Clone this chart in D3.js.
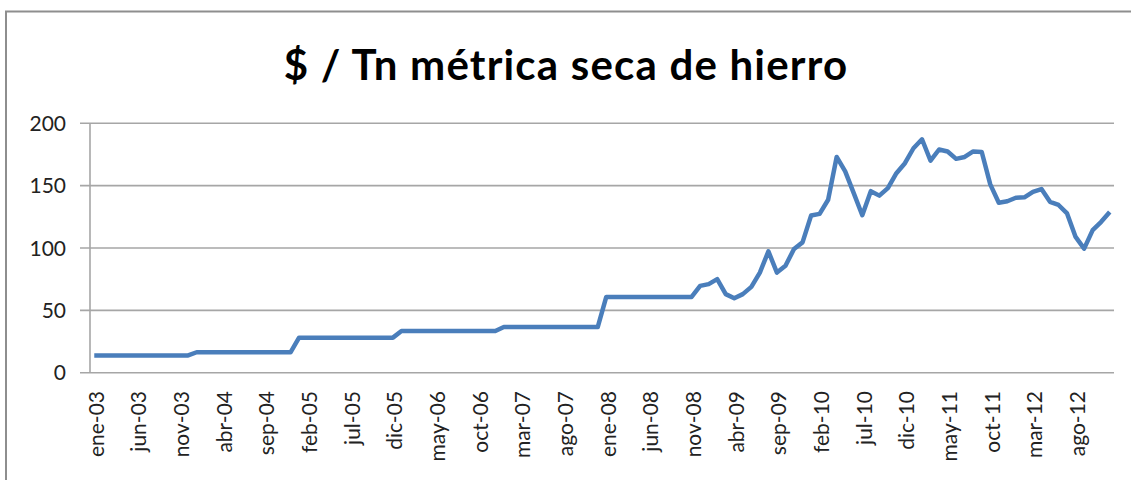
<!DOCTYPE html>
<head>
  <meta charset="utf-8">
  <style>
    body { margin: 0; background: #fff; }
    svg { display: block; background: #fff; }
    .frame { fill: none; stroke: #8e8e8e; stroke-width: 2px; }
    .grid line { stroke: #a6a6a6; stroke-width: 1.6px; }
    .tick-label { font-family: Lato, "Open Sans", sans-serif; font-size: 21px; fill: #222; }
    .title { font-family: Lato, "Open Sans", sans-serif; font-weight: bold; font-size: 42px; letter-spacing: 1.2px; fill: #000; }
    .serie { fill: none; stroke: #4a7ebb; stroke-width: 4.5px; stroke-linejoin: round; }
  </style>
</head>

<body>
  <svg></svg>
  <script src="https://d3js.org/d3.v7.min.js"></script>
  <script type="text/javascript">
    // meses en español y años del eje
    let mesNames = ['ene','feb','mar','abr','may','jun','jul','ago','sep','oct','nov','dic'];
    let years = ['03','04','05','06','07','08','09','10','11','12'];

    let yTicks = [0, 50, 100, 150, 200];

    // $ por tonelada métrica seca, ene-03 .. dic-12
    let precios = [
      13.82, 13.82, 13.82, 13.82, 13.82, 13.82, 13.82, 13.82, 13.82, 13.82, 13.82, 13.82,
      16.39, 16.39, 16.39, 16.39, 16.39, 16.39, 16.39, 16.39, 16.39, 16.39, 16.39, 16.39,
      28.11, 28.11, 28.11, 28.11, 28.11, 28.11, 28.11, 28.11, 28.11, 28.11, 28.11, 28.11,
      33.45, 33.45, 33.45, 33.45, 33.45, 33.45, 33.45, 33.45, 33.45, 33.45, 33.45, 33.45,
      36.63, 36.63, 36.63, 36.63, 36.63, 36.63, 36.63, 36.63, 36.63, 36.63, 36.63, 36.63,
      60.8, 60.8, 60.8, 60.8, 60.8, 60.8, 60.8, 60.8, 60.8, 60.8, 60.8, 69.6,
      71, 75, 63, 59.7, 63, 68.8, 80.3, 97.3, 80.3, 85.7, 99.2, 104.5,
      126, 127.4, 138.7, 173, 161.5, 144, 126.3, 145.6, 142, 148, 160, 168,
      180, 187.2, 170, 179, 177.4, 171.5, 173, 177.4, 177, 151, 136.3, 137.5,
      140.3, 140.6, 145, 147.3, 137, 134.5, 127.7, 108.9, 99.5, 114.3, 121, 128.9
    ];

    let meses = [];
    years.forEach(function(y){
      mesNames.forEach(function(m){ meses.push(m + '-' + y) })
    })
    // etiqueta cada 5 meses
    let etiquetas = meses.filter(function(d, i){ return i % 5 == 0 });

    let width = 1131, height = 480;
    let svg = d3.select('svg').attr('width', width).attr('height', height);

    let mLeft = 90, mRight = 1114, mTop = 123.3, mBottom = 372.7;

    let x = d3.scalePoint().domain(meses).range([mLeft, mRight]).padding(0.5);
    let y = d3.scaleLinear().domain([0, 200]).range([mBottom, mTop]);

    // marco del gráfico
    svg.append('path').classed('frame', true)
      .attr('d', 'M6,' + (height + 5) + 'V11.5H' + (width + 5));

    svg.append('text').classed('title', true)
      .attr('x', 566).attr('y', 80)
      .attr('text-anchor', 'middle')
      .text('$ / Tn métrica seca de hierro');

    let grid = svg.append('g').classed('grid', true);
    grid.selectAll('line.h').data(yTicks).enter().append('line')
      .attr('x1', mLeft - 10).attr('x2', mRight)
      .attr('y1', function(d){ return y(d) }).attr('y2', function(d){ return y(d) });
    grid.append('line')
      .attr('x1', mLeft).attr('x2', mLeft)
      .attr('y1', mTop).attr('y2', mBottom);

    svg.append('g').selectAll('text').data(yTicks).enter().append('text')
      .classed('tick-label', true)
      .attr('x', 66)
      .attr('y', function(d){ return y(d) })
      .attr('dy', '0.36em')
      .attr('text-anchor', 'end')
      .text(function(d){ return d });

    svg.append('g').selectAll('text').data(etiquetas).enter().append('text')
      .classed('tick-label', true)
      .attr('transform', function(d){ return 'translate(' + (x(d) + 2) + ',391) rotate(-90)' })
      .attr('dy', '0.36em')
      .attr('text-anchor', 'end')
      .text(function(d){ return d });

    let line = d3.line()
      .x(function(d, i){ return x(meses[i]) })
      .y(function(d){ return y(d) });

    svg.append('path').classed('serie', true)
      .datum(precios)
      .attr('d', line);
  </script>
</body>
